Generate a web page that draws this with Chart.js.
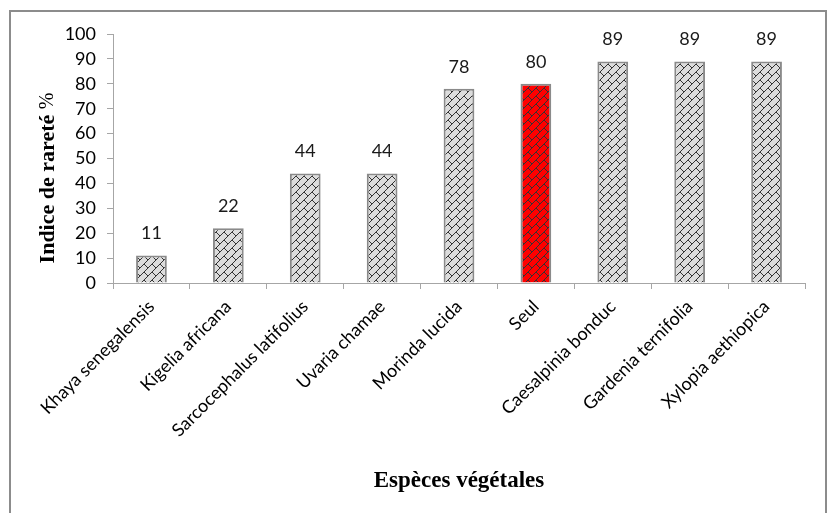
<!DOCTYPE html>
<html>
<head>
<meta charset="utf-8">
<script src="https://cdn.jsdelivr.net/npm/chart.js@4.4.0/dist/chart.umd.min.js"></script>
<style>
  html, body { margin: 0; padding: 0; background: #fff; }
  #wrap { width: 832px; height: 513px; }
</style>
</head>
<body>
<div id="wrap"><canvas id="chart" width="832" height="513"></canvas></div>
<script>
const species = [
  "Khaya senegalensis", "Kigelia africana", "Sarcocephalus latifolius",
  "Uvaria chamae", "Morinda lucida", "Seul", "Caesalpinia bonduc",
  "Gardenia ternifolia", "Xylopia aethiopica"
];
const rarity = [11, 22, 44, 44, 78, 80, 89, 89, 89];
const yTicks = [0, 10, 20, 30, 40, 50, 60, 70, 80, 90, 100];

// diagonal brick fill, like the Excel pattern
function brick(bg) {
  const s = 8;
  const c = document.createElement("canvas");
  c.width = s; c.height = s;
  const g = c.getContext("2d");
  g.fillStyle = bg;
  g.fillRect(0, 0, s, s);
  g.strokeStyle = "#333";
  g.lineWidth = 1;
  for (const dx of [-s, 0, s]) {
    for (const dy of [-s, 0, s]) {
      g.beginPath();
      g.moveTo(dx, dy + s); g.lineTo(dx + s, dy);
      g.moveTo(dx, dy); g.lineTo(dx + s / 2, dy + s / 2);
      g.stroke();
    }
  }
  return g.createPattern(c, "repeat");
}

const grayFill = brick("#dcdcdc");
const redFill = brick("#ff0000");
const fills = species.map(n => n === "Seul" ? redFill : grayFill);

const frame = {
  id: "frame",
  beforeDraw(chart) {
    const ctx = chart.ctx;
    ctx.save();
    ctx.strokeStyle = "#8c8c8c";
    ctx.lineWidth = 2;
    ctx.strokeRect(10, 11, 816, 520);
    ctx.restore();
  }
};

const valueLabels = {
  id: "valueLabels",
  afterDatasetsDraw(chart) {
    const ctx = chart.ctx;
    const meta = chart.getDatasetMeta(0);
    ctx.save();
    ctx.font = "18px Lato, 'Liberation Sans', sans-serif";
    ctx.fillStyle = "#1a1a1a";
    ctx.textAlign = "center";
    ctx.textBaseline = "middle";
    meta.data.forEach((bar, i) => {
      ctx.fillText(String(rarity[i]), bar.x, bar.y - 22);
    });
    ctx.restore();
  }
};

const axisTitles = {
  id: "axisTitles",
  afterDraw(chart) {
    const ctx = chart.ctx;
    ctx.save();
    ctx.fillStyle = "#000";
    ctx.textBaseline = "middle";
    // x title
    ctx.font = "bold 23px 'Liberation Serif', 'Times New Roman', serif";
    ctx.textAlign = "center";
    ctx.fillText("Espèces végétales", 459, 481);
    // y title
    ctx.translate(48, 178);
    ctx.rotate(-Math.PI / 2);
    const bold = "bold 22px 'Liberation Serif', 'Times New Roman', serif";
    const reg = "20px 'Liberation Serif', 'Times New Roman', serif";
    const t1 = "Indice de rareté ";
    const t2 = "%";
    ctx.font = bold;
    const w1 = ctx.measureText(t1).width;
    ctx.font = reg;
    const w2 = ctx.measureText(t2).width;
    const x0 = -(w1 + w2) / 2;
    ctx.textAlign = "left";
    ctx.font = bold;
    ctx.fillText(t1, x0, 0);
    ctx.font = reg;
    ctx.fillText(t2, x0 + w1, 0);
    ctx.restore();
  }
};

new Chart(document.getElementById("chart"), {
  type: "bar",
  data: {
    labels: species,
    datasets: [{
      data: rarity,
      backgroundColor: fills,
      borderColor: "#8a8a8a",
      borderWidth: 2,
      barPercentage: 0.4,
      categoryPercentage: 1
    }]
  },
  options: {
    responsive: false,
    animation: false,
    layout: { padding: { left: 10, right: 27, top: 34, bottom: 0 } },
    plugins: { legend: { display: false }, tooltip: { enabled: false } },
    scales: {
      x: {
        grid: {
          offset: true,
          drawOnChartArea: false,
          drawTicks: true,
          tickLength: 6,
          color: "#a6a6a6"
        },
        border: { color: "#a6a6a6", width: 1 },
        ticks: {
          minRotation: 45,
          maxRotation: 45,
          autoSkip: false,
          padding: 7,
          color: "#000",
          font: { family: "Lato, 'Liberation Sans', sans-serif", size: 18 }
        },
        afterFit(scale) { scale.height = 230; }
      },
      y: {
        min: 0,
        max: 100,
        afterBuildTicks(scale) { scale.ticks = yTicks.map(v => ({ value: v })); },
        grid: {
          drawOnChartArea: false,
          drawTicks: true,
          tickLength: 6,
          color: "#a6a6a6"
        },
        border: { color: "#a6a6a6", width: 1 },
        ticks: {
          padding: 11,
          color: "#000",
          font: { family: "Lato, 'Liberation Sans', sans-serif", size: 18 }
        },
        afterFit(scale) { scale.width = 103; }
      }
    }
  },
  plugins: [frame, valueLabels, axisTitles]
});
</script>
</body>
</html>
